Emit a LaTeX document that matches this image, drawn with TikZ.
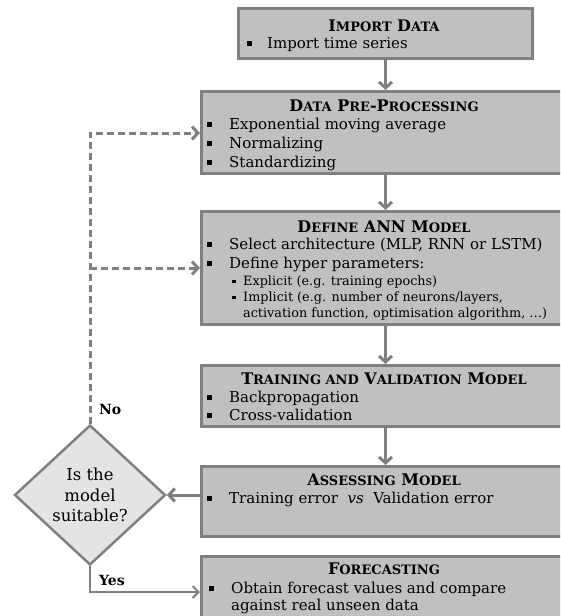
\documentclass[tikz,border=0pt]{standalone}
\usepackage{fontspec}
\setmainfont{DejaVu Serif}
\usetikzlibrary{arrows.meta,shapes.geometric}
\definecolor{boxfill}{HTML}{C0C0C0}
\definecolor{boxdraw}{HTML}{808080}
\definecolor{diafill}{HTML}{E4E4E4}
\definecolor{arrowc}{HTML}{808080}
\newcommand{\bsq}{\rule[2.5pt]{4.5pt}{4.5pt}}
\newcommand{\ssq}{\rule[2pt]{3.5pt}{3.5pt}}
\newcommand{\fsc}[1]{{\fontsize{13}{15}\selectfont\uppercase{#1}}}
\tikzset{
  box/.style={rectangle, draw=boxdraw, fill=boxfill, line width=3pt, anchor=north west, inner sep=0pt},
  txt/.style={anchor=base west, inner sep=0pt, font=\fontsize{15}{18}\selectfont},
  head/.style={anchor=base, inner sep=0pt, font=\fontsize{16}{18}\selectfont\bfseries},
  subtxt/.style={anchor=base west, inner sep=0pt, font=\fontsize{12.8}{14}\selectfont},
  arr/.style={draw=arrowc, line width=3pt, -{Straight Barb[length=6pt,width=13pt]}},
  darr/.style={arr, dash pattern=on 7pt off 4pt},
  thinarr/.style={draw=arrowc, line width=2pt, -{Straight Barb[length=6pt,width=12pt]}},
  lab/.style={anchor=base west, inner sep=0pt, font=\fontsize{14}{16}\selectfont\bfseries},
  decision/.style={diamond, draw=boxdraw, fill=diafill, line width=2.5pt, minimum width=151pt, minimum height=140pt, inner sep=0pt, align=center, font=\fontsize{16.5}{20.5}\selectfont}
}
\begin{document}
\begin{tikzpicture}[x=1pt,y=-1pt]
\useasboundingbox (0,0) rectangle (560,616);
\clip (0,0) rectangle (560,616);
% boxes
\node[box, minimum width=294pt, minimum height=50pt] (imp) at (237,7) {};
\node[box, minimum width=368pt, minimum height=82pt] (pre) at (200,90) {};
\node[box, minimum width=368pt, minimum height=113pt] (ann) at (200,210) {};
\node[box, minimum width=368pt, minimum height=61pt] (trn) at (200,364) {};
\node[box, minimum width=368pt, minimum height=70pt] (ass) at (200,465) {};
\node[box, minimum width=368pt, minimum height=80pt] (fc) at (200,555) {};
\node[decision] (dia) at (90,495) {Is the\\model\\suitable?};
% texts
\node[head] (h1) at (384,31) {I\fsc{mport} D\fsc{ata}};
\node[txt] (t11) at (247,48) {\bsq\hspace{15.5pt}Import time series};
\node[head] (h2) at (384,111) {D\fsc{ata} P\fsc{re}-P\fsc{rocessing}};
\node[txt] (t21) at (207,129) {\bsq\hspace{17.5pt}Exponential moving average};
\node[txt] (t22) at (207,148) {\bsq\hspace{17.5pt}Normalizing};
\node[txt] (t23) at (207,167) {\bsq\hspace{17.5pt}Standardizing};
\node[head] (h3) at (384,232) {D\fsc{efine} ANN M\fsc{odel}};
\node[txt] (t31) at (207,249) {\bsq\hspace{17.5pt}Select architecture (MLP, RNN or LSTM)};
\node[txt] (t32) at (207,268) {\bsq\hspace{17.5pt}Define hyper parameters:};
\node[subtxt] (t33) at (232,285) {\ssq\hspace{7.5pt}Explicit (e.g. training epochs)};
\node[subtxt] (t34) at (232,301) {\ssq\hspace{7.5pt}Implicit (e.g. number of neurons/layers,};
\node[subtxt] (t35) at (243,317) {activation function, optimisation algorithm, \ldots)};
\node[head] (h4) at (384,384) {T\fsc{raining and} V\fsc{alidation} M\fsc{odel}};
\node[txt] (t41) at (207,402) {\bsq\hspace{17.5pt}Backpropagation};
\node[txt] (t42) at (207,420) {\bsq\hspace{17.5pt}Cross-validation};
\node[head] (h5) at (384,485) {A\fsc{ssessing} M\fsc{odel}};
\node[txt] (t51) at (207,503) {\bsq\hspace{17.5pt}Training error~~\textit{vs}~~Validation error};
\node[head] (h6) at (384,574) {F\fsc{orecasting}};
\node[txt] (t61) at (209,593) {\bsq\hspace{17.5pt}Obtain forecast values and compare};
\node[txt] (t62) at (231,610) {against real unseen data};
\node[lab] (no) at (99,414) {No};
\node[lab] (yes) at (99,585) {Yes};
% connectors
\draw[arr] (imp.south) -- (imp.south |- pre.north);
\draw[arr] (pre.south) -- (ann.north);
\draw[arr] (ann.south) -- (trn.north);
\draw[arr] (trn.south) -- (ass.north);
\draw[arr] (dia.east -| ass.west) -- (dia.east);
\coordinate (c1) at (90,133);
\draw[darr] (dia.north) -- (c1) -- (c1 -| pre.west);
\draw[darr] (dia.north |- ann.west) -- (ann.west);
\coordinate (c2) at (90,592);
\draw[thinarr] (dia.south) -- (c2) -- (c2 -| fc.west);
\end{tikzpicture}
\end{document}
